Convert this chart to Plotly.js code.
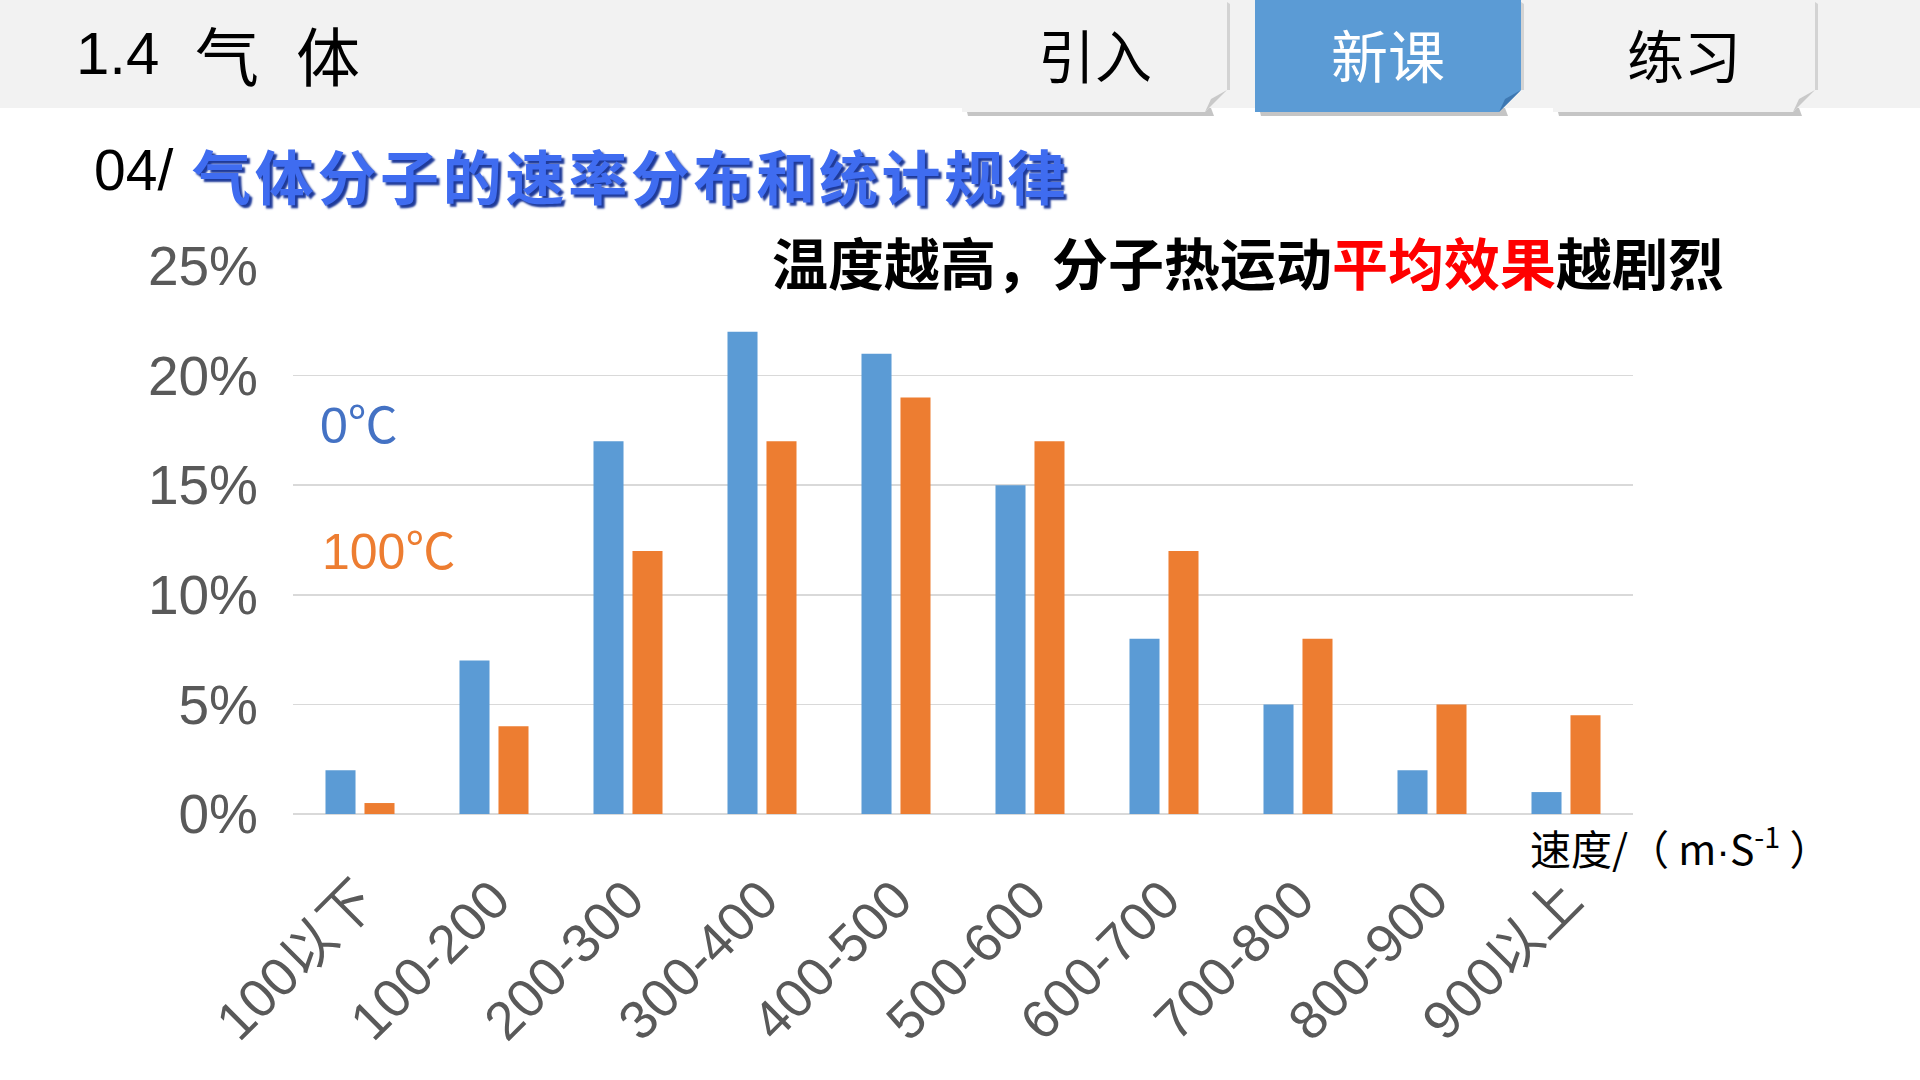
<!DOCTYPE html>
<html>
<head>
<meta charset="utf-8">
<script src="https://cdn.plot.ly/plotly-3.0.1.min.js"></script>
<style>
  html, body { margin: 0; padding: 0; background: #ffffff; }
  #chart { width: 1920px; height: 1080px; }
</style>
</head>
<body>
<div id="chart"></div>
<script>
// ---- data ----
const categories = ["100以下", "100-200", "200-300", "300-400", "400-500", "500-600", "600-700", "700-800", "800-900", "900以上"];
const series0C   = [2, 7, 17, 22, 21, 15, 8, 5, 2, 1];
const series100C = [0.5, 4, 12, 17, 19, 17, 12, 8, 5, 4.5];
const seriesNames = ["0℃", "100℃"];
const yTicks = [0, 5, 10, 15, 20, 25];
const headerParts = ["1.4", "气", "体"];
const tabLabels = ["引入", "新课", "练习"];
const sectionNo = "04/";
const sectionTitle = "气体分子的速率分布和统计规律";
const subtitleParts = ["温度越高，分子热运动", "平均效果", "越剧烈"];
const axisTitle = '速度/（ m<span style="font-family:Liberation Sans">·</span>S<sup>-1</sup> ）';

// ---- layout geometry (pixels) ----
const W = 1920, H = 1080;
const M = {l: 293, r: 287, t: 266, b: 266};
const PW = W - M.l - M.r, PH = H - M.t - M.b;
const xp = px => (px - M.l) / PW;
const yp = py => (H - M.b - py) / PH;

const BLUE = "#5b9bd5", ORANGE = "#ed7d31";
const SANS = "Liberation Sans, Arial, Noto Sans CJK SC, sans-serif";
const CJK = "Noto Sans CJK SC, Liberation Sans, sans-serif";

const traces = [
  {type: "bar", name: seriesNames[0], x: categories, y: series0C, marker: {color: BLUE}, hoverinfo: "x+y"},
  {type: "bar", name: seriesNames[1], x: categories, y: series100C, marker: {color: ORANGE}, hoverinfo: "x+y"}
];

// shapes
function rectPx(x0, y0, x1, y1, fill, extra) {
  return Object.assign({type: "rect", xref: "paper", yref: "paper",
    x0: xp(x0), x1: xp(x1), y0: yp(y1), y1: yp(y0),
    fillcolor: fill, line: {width: 0}, layer: "below"}, extra || {});
}
function pathPx(points, fill, extra) {
  const d = points.map((p, i) => (i ? "L" : "M") + xp(p[0]).toFixed(5) + "," + yp(p[1]).toFixed(5)).join(" ") + " Z";
  return Object.assign({type: "path", xref: "paper", yref: "paper", path: d,
    fillcolor: fill, line: {width: 0}, layer: "below"}, extra || {});
}
const shapes = [];
shapes.push(rectPx(0, 0, W, 108, "#f2f2f2"));
const tabs = [
  {x0: 962, x1: 1227, fill: "#f2f2f2", fold: "#c9c9c9", color: "#000000"},
  {x0: 1255, x1: 1521, fill: BLUE, fold: "#3e78b2", color: "#ffffff"},
  {x0: 1553, x1: 1815, fill: "#f2f2f2", fold: "#c9c9c9", color: "#000000"}
];
const tabBottom = 112, foldSz = 22;
tabs.forEach(t => {
  shapes.push(pathPx([[t.x0 + 4, tabBottom - 4], [t.x1 - 16, tabBottom - 4], [t.x1 - 16 + 3, tabBottom + 4], [t.x0 + 6, tabBottom + 4]], "rgba(90,90,90,0.35)"));
  shapes.push(pathPx([[t.x1, 2], [t.x1 + 3, 4], [t.x1 + 3, tabBottom - foldSz], [t.x1, tabBottom - foldSz]], "rgba(90,90,90,0.2)"));
  shapes.push(pathPx([[t.x0, 0], [t.x1, 0], [t.x1, tabBottom - foldSz], [t.x1 - foldSz, tabBottom], [t.x0, tabBottom]], t.fill));
  shapes.push(pathPx([[t.x1, tabBottom - foldSz], [t.x1 - foldSz, tabBottom], [t.x1 - 16, tabBottom - 13]], t.fold));
});

// annotations
const annotations = [];
function ann(text, px, py, font, extra) {
  annotations.push(Object.assign({xref: "paper", yref: "paper", x: xp(px), y: yp(py),
    text: text, showarrow: false, xanchor: "left", yanchor: "middle", font: font}, extra || {}));
}
ann(headerParts[0], 74, 53, {family: SANS, size: 60, color: "#000000"});
ann(headerParts[1], 193, 53, {family: CJK, size: 64, color: "#000000"});
ann(headerParts[2], 294, 53, {family: CJK, size: 64, color: "#000000"});
tabs.forEach((t, i) => {
  ann(tabLabels[i], (t.x0 + t.x1) / 2, 53, {family: CJK, size: 57, color: t.color}, {xanchor: "center"});
});
ann(sectionNo, 92, 170, {family: SANS, size: 57, color: "#000000"});
const spaced = sectionTitle.split("").join("\u200A");
ann(spaced, 190, 175, {family: CJK, size: 59, color: "#3f6cf0", weight: 700, shadow: "3px 3px 2px #1e3a9a"});
ann(subtitleParts[0] + '<span style="color:#ff0000">' + subtitleParts[1] + '</span>' + subtitleParts[2],
    770, 260, {family: CJK, size: 56, color: "#000000", weight: 700});
ann(seriesNames[0], 318, 426, {family: SANS, size: 50, color: "#4472c4"});
ann(seriesNames[1], 320, 552, {family: SANS, size: 50, color: ORANGE});
ann(axisTitle, 1528, 846, {family: CJK, size: 41, color: "#000000"});

const layout = {
  width: W, height: H,
  margin: M,
  paper_bgcolor: "#ffffff", plot_bgcolor: "#ffffff",
  showlegend: false,
  barmode: "group", bargap: 0.418, bargroupgap: 0.23,
  xaxis: {
    type: "category", tickangle: -45, showgrid: false, showline: false, zeroline: false,
    ticks: "", tickfont: {family: SANS, size: 54, color: "#595959"}, ticklabelstandoff: 42
  },
  yaxis: {
    range: [0, 25], tickvals: yTicks, ticktext: yTicks.map(v => v + "%"),
    showgrid: true, gridcolor: "#d9d9d9", gridwidth: 1.5,
    zeroline: true, zerolinecolor: "#d9d9d9", zerolinewidth: 1.5,
    showline: false, ticks: "", tickfont: {family: SANS, size: 55, color: "#595959"},
    ticklabelstandoff: 34
  },
  shapes: shapes,
  annotations: annotations
};

Plotly.newPlot("chart", traces, layout, {displayModeBar: false, staticPlot: true});
</script>
</body>
</html>
